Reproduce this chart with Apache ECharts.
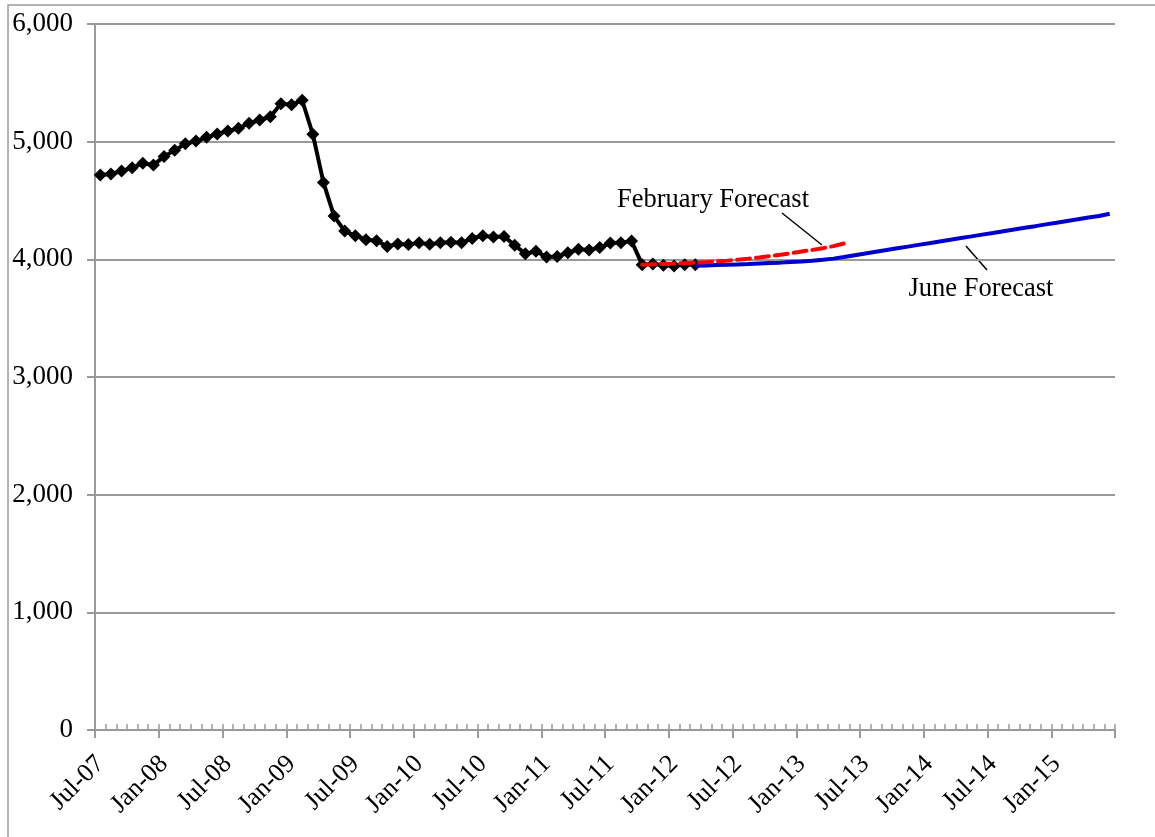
<!DOCTYPE html>
<html>
<head>
<meta charset="utf-8">
<script src="https://cdn.jsdelivr.net/npm/echarts@6/dist/echarts.min.js"></script>
<style>
  html, body { margin: 0; padding: 0; background: #fff; }
  #chart { width: 1155px; height: 837px; }
</style>
</head>
<body>
<div id="chart"></div>
<script>
// Months from Jul-07 to Jun-15
const monthNames = ['Jan','Feb','Mar','Apr','May','Jun','Jul','Aug','Sep','Oct','Nov','Dec'];
const categories = [];
for (let y = 2007, m = 6; categories.length < 96; m++) {
  if (m === 12) { m = 0; y++; }
  categories.push(monthNames[m] + '-' + String(y % 100).padStart(2, '0'));
}

const yTicks = [0, 1000, 2000, 3000, 4000, 5000, 6000];

// Actual (Jul-07 .. Mar-12)
const actualStart = 0;
const actual = [
  4716, 4725, 4750, 4779, 4816, 4801, 4875, 4926, 4982, 5005,
  5037, 5065, 5090, 5113, 5156, 5184, 5212, 5322, 5314, 5352,
  5063, 4654, 4368, 4240, 4200, 4167, 4158, 4110, 4130, 4127,
  4140, 4128, 4140, 4145, 4141, 4178, 4200, 4190, 4195, 4120,
  4048, 4068, 4020, 4025, 4056, 4085, 4080, 4100, 4138, 4140,
  4155, 3955, 3960, 3950, 3943, 3955, 3955
];

// February Forecast (Oct-11 .. May-13)
const febStart = 51;
const febForecast = [
  3955, 3958, 3961, 3964, 3967, 3971, 3976, 3982, 3989, 3997,
  4006, 4016, 4027, 4039, 4052, 4066, 4080, 4095, 4112, 4135
];

// June Forecast (Mar-12 .. Jun-15)
const juneStart = 56;
const juneForecast = [
  3945, 3948, 3951, 3954, 3957, 3960, 3964, 3968, 3972, 3977,
  3982, 3988, 3996, 4006, 4020, 4035, 4050, 4065, 4079, 4094,
  4108, 4123, 4137, 4152, 4166, 4181, 4195, 4210, 4224, 4239,
  4253, 4268, 4282, 4297, 4311, 4326, 4340, 4355, 4369, 4387
];

function pad(start, values) {
  const out = new Array(categories.length).fill(null);
  values.forEach((v, i) => { out[start + i] = v; });
  return out;
}

const FONT = 'Liberation Serif';
const GREY = '#9a9a9a';

const chart = echarts.init(document.getElementById('chart'), null, { renderer: 'canvas' });
chart.setOption({
  animation: false,
  backgroundColor: '#fff',
  grid: { left: 95, right: 40, top: 24, bottom: 107, containLabel: false },
  xAxis: [
    {
      type: 'category',
      data: categories,
      boundaryGap: true,
      axisLine: { show: true, lineStyle: { color: GREY, width: 2 } },
      axisTick: { show: true, inside: false, length: 8, interval: (i) => i % 6 === 0, lineStyle: { color: GREY, width: 2 } },
      axisLabel: {
        interval: 5, rotate: 45, margin: 30,
        fontFamily: FONT, fontSize: 26, color: '#000'
      },
      splitLine: { show: false }
    },
    {
      type: 'category',
      data: categories,
      boundaryGap: true,
      position: 'bottom',
      offset: 0,
      axisLine: { show: true, lineStyle: { color: GREY, width: 2 } },
      axisTick: { show: true, inside: true, length: 6, interval: 0, lineStyle: { color: GREY, width: 1.5 } },
      axisLabel: { show: false },
      splitLine: { show: false }
    }
  ],
  yAxis: {
    type: 'value',
    min: yTicks[0], max: yTicks[yTicks.length - 1], interval: 1000,
    axisLine: { show: true, lineStyle: { color: GREY, width: 2 } },
    axisTick: { show: true, inside: false, length: 8, lineStyle: { color: GREY, width: 2 } },
    axisLabel: {
      margin: 22, fontFamily: FONT, fontSize: 27, color: '#000',
      formatter: v => v.toLocaleString('en-US')
    },
    splitLine: { show: true, lineStyle: { color: GREY, width: 2 } }
  },
  series: [
    {
      name: 'Actual', type: 'line', data: pad(actualStart, actual),
      symbol: 'diamond', symbolSize: 13, showSymbol: true, showAllSymbol: true,
      lineStyle: { color: '#000', width: 4 },
      itemStyle: { color: '#000' }, z: 3
    },
    {
      name: 'February Forecast', type: 'line', data: pad(febStart, febForecast),
      symbol: 'none', connectNulls: false,
      lineStyle: { color: '#ff0000', width: 4, type: [13, 6], cap: 'round' }, z: 5
    },
    {
      name: 'June Forecast', type: 'line', data: pad(juneStart, juneForecast),
      symbol: 'none',
      lineStyle: { color: '#0000cc', width: 4 }, z: 4
    }
  ],
  graphic: [
    { type: 'rect', shape: { x: 8, y: 5, width: 1300, height: 1000 }, style: { fill: 'none', stroke: GREY, lineWidth: 1.5 }, silent: true, z: -1 },
    { type: 'text', x: 713, y: 200, style: { text: 'February Forecast', font: '26.5px "Liberation Serif"', fill: '#000', textAlign: 'center', textVerticalAlign: 'middle' } },
    { type: 'line', shape: { x1: 782, y1: 213, x2: 822, y2: 245 }, style: { stroke: '#000', lineWidth: 1.5 } },
    { type: 'text', x: 981, y: 289, style: { text: 'June Forecast', font: '26.5px "Liberation Serif"', fill: '#000', textAlign: 'center', textVerticalAlign: 'middle' } },
    { type: 'line', shape: { x1: 966, y1: 246, x2: 987, y2: 270 }, style: { stroke: '#000', lineWidth: 1.5 } }
  ]
});
</script>
</body>
</html>
